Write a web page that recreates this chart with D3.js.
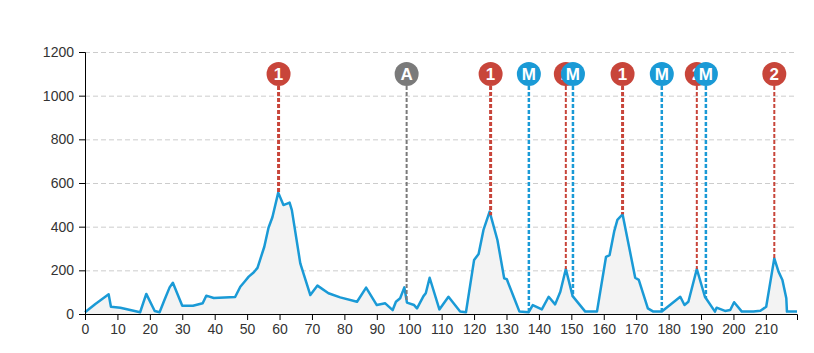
<!DOCTYPE html>
<html>
<head>
<meta charset="utf-8">
<script src="https://cdn.jsdelivr.net/npm/d3@7"></script>
<style>
  body { margin: 0; background: #fff; }
  svg { display: block; font-family: "Liberation Sans", Arial, sans-serif; }
  .grid line { stroke: #ccc; stroke-dasharray: 5,3; }
  .axis text { font-size: 14px; fill: #333; }
  .axis path, .axis line { stroke: #000; }
</style>
</head>
<body>
<svg id="chart"></svg>
<script>
// profile (km, elevation m)
const kms = [0, 3.2, 7.3, 8, 10.9, 17, 18.9, 21.5, 23, 24.5, 26.1, 27.1, 30, 33.3, 36.3, 37.4, 39.7, 46.3, 47.9, 49.2,
  50.5, 52, 53.2, 55.3, 56.6, 57.8, 59.6, 61.2, 63.1, 63.8, 66.4, 69.5, 71.7, 75.1, 78.7, 83.9, 86.7, 90, 92.6, 94.9,
  95.9, 97.2, 98.5, 99.3, 101.5, 102.4, 104.4, 105.1, 106.3, 109.3, 112.1, 115.7, 117.5, 120, 121.4, 122.9, 124.8, 127.2, 129.3, 130.1,
  132.2, 134, 136.8, 138.1, 140.9, 143, 145, 146.6, 148.3, 150.4, 154.3, 157.9, 160.7, 161.8, 163.2, 164.2, 165.8, 168, 169.7, 170.8,
  173.6, 175.3, 177.9, 183.6, 184.9, 186.1, 188.7, 191.2, 194.3, 194.8, 197.4, 199, 200.2, 202.6, 206.2, 208.3, 210.1, 211.1, 212.6, 213.9,
  215.1, 216.3, 216.5, 219.6];
const elevs = [8, 46, 90, 33, 29, 8, 92, 14, 8, 64, 122, 143, 38, 38, 49, 84, 73, 78, 125, 148,
  171, 190, 211, 308, 395, 443, 556, 499, 510, 476, 232, 87, 130, 95, 76, 56, 121, 41, 49, 18,
  56, 72, 122, 52, 41, 26, 82, 95, 166, 21, 79, 11, 8, 247, 275, 385, 469, 339, 163, 159,
  79, 11, 8, 41, 21, 79, 44, 102, 206, 82, 11, 11, 262, 270, 377, 431, 457, 293, 166, 156,
  26, 11, 11, 79, 41, 56, 206, 79, 11, 29, 14, 18, 54, 11, 11, 15, 33, 122, 255, 194,
  156, 72, 11, 11];

// climbs / sprints
const markerKm = [59.7, 99.2, 125.1, 136.9, 148.3, 150.5, 165.8, 177.9, 188.7, 191.5, 212.6];
const markerLabel = ['1', 'A', '1', 'M', '2', 'M', '1', 'M', '2', 'M', '2'];
const markerType = ['c1', 'a', 'c1', 'm', 'c2', 'm', 'c1', 'm', 'c2', 'm', 'c2'];

const xTicks = d3.range(0, 211, 10);
const yTicks = [0, 200, 400, 600, 800, 1000, 1200];

const width = 814, height = 353;
const margin = { top: 52, right: 17, bottom: 39, left: 85 };

const svg = d3.select('#chart').attr('width', width).attr('height', height);

const x = d3.scaleLinear().domain([0, 219.6]).range([margin.left, width - margin.right]);
const y = d3.scaleLinear().domain([0, 1200]).range([height - margin.bottom, margin.top]);

const pts = kms.map((k, i) => ({ km: k, ele: elevs[i] }));

// gridlines
svg.append('g').attr('class', 'grid')
  .selectAll('line')
  .data(yTicks.filter(d => d > 0))
  .enter().append('line')
  .attr('x1', x.range()[0]).attr('x2', x.range()[1])
  .attr('y1', d => y(d) + 0.5).attr('y2', d => y(d) + 0.5);

// area + line
svg.append('path')
  .datum(pts)
  .attr('fill', '#f3f3f3')
  .attr('d', d3.area().x(d => x(d.km)).y0(y(0)).y1(d => y(d.ele)));

svg.append('path')
  .datum(pts)
  .attr('fill', 'none')
  .attr('stroke', '#1a9ad6')
  .attr('stroke-width', 2.5)
  .attr('stroke-linejoin', 'round')
  .attr('d', d3.line().x(d => x(d.km)).y(d => y(d.ele)));

// axes
svg.append('g').attr('class', 'axis')
  .attr('transform', `translate(0,${y(0)})`)
  .call(d3.axisBottom(x).tickValues(xTicks).tickFormat(d3.format('d')).tickPadding(4));

svg.append('g').attr('class', 'axis')
  .attr('transform', `translate(${x(0)},0)`)
  .call(d3.axisLeft(y).tickValues(yTicks).tickFormat(d3.format('d')).tickPadding(5));

// elevation at a given km, from the profile
const bis = d3.bisector(d => d.km).left;
function eleAt(k) {
  const i = Math.max(1, Math.min(pts.length - 1, bis(pts, k)));
  const a = pts[i - 1], b = pts[i];
  return a.ele + (b.ele - a.ele) * (k - a.km) / (b.km - a.km);
}

const colors = { c1: '#c8453a', c2: '#c8453a', a: '#7a7a7a', m: '#1a9ad6' };
const widths = { c1: 3, c2: 2, a: 2, m: 2.5 };
const cy = 74;

const markers = markerKm.map((k, i) => ({ km: k, label: markerLabel[i], type: markerType[i] }));

const mg = svg.selectAll('.marker')
  .data(markers)
  .enter().append('g')
  .attr('class', 'marker');

mg.append('line')
  .attr('x1', d => x(d.km)).attr('x2', d => x(d.km))
  .attr('y1', cy).attr('y2', d => y(eleAt(d.km)))
  .attr('stroke', d => colors[d.type])
  .attr('stroke-width', d => widths[d.type])
  .attr('stroke-dasharray', '4,2');

mg.append('circle')
  .attr('cx', d => x(d.km)).attr('cy', cy).attr('r', 12)
  .attr('fill', d => colors[d.type]);

mg.append('text')
  .attr('x', d => x(d.km)).attr('y', cy + 6)
  .attr('text-anchor', 'middle')
  .attr('fill', '#fff')
  .attr('font-weight', 'bold')
  .attr('font-size', 17)
  .text(d => d.label);
</script>
</body>
</html>
